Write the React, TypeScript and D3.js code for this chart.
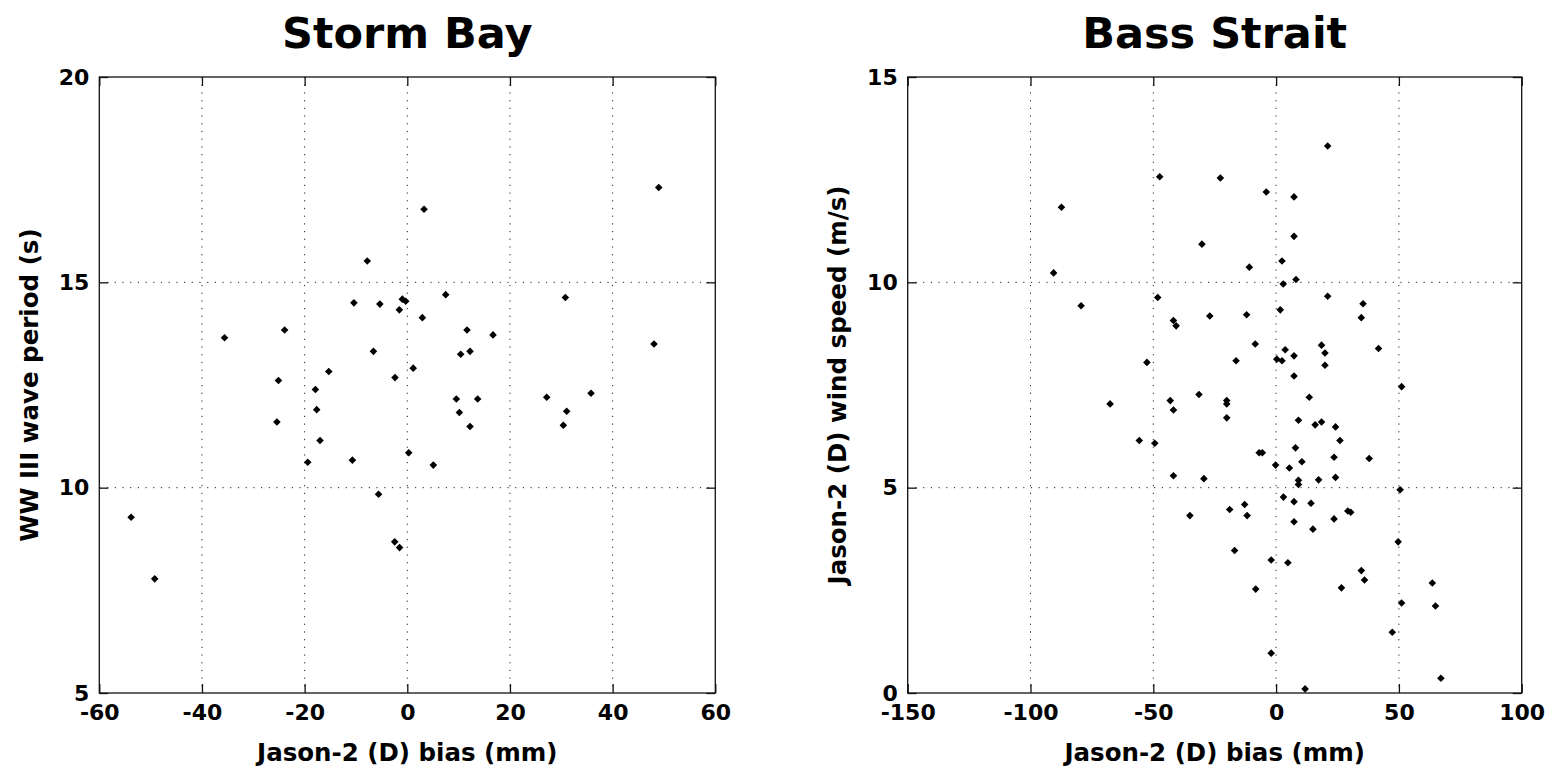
import { useEffect, useRef } from 'react'
import * as d3 from 'd3'

const WIDTH = 1556
const HEIGHT = 772
const FONT = '"DejaVu Sans", sans-serif'

// Storm Bay: Jason-2 (D) bias (mm) vs WW III wave period (s)
const stormBias = [
  -53.8, -49.2, -35.6, -25.1, -25.4, -23.9, -19.4, -17.9, -17.65, -17.0, -15.3,
  -10.7, -10.4, -7.8, -6.6, -5.6, -5.35, -2.45, -1.5, -2.4, -1.55, -0.97, -0.31,
  0.28, 1.15, 2.93, 3.26, 5.07, 7.48, 9.55, 10.14, 10.4, 11.63, 12.22, 12.22,
  13.71, 16.7, 27.16, 30.4, 30.79, 31.05, 35.79, 48.06, 48.98,
]
const stormPeriod = [
  9.28, 7.78, 13.65, 12.61, 11.6, 13.84, 10.62, 12.39, 11.9, 11.15, 12.83,
  10.67, 14.5, 15.52, 13.32, 9.84, 14.47, 8.68, 8.54, 12.68, 14.33, 14.59, 14.54,
  10.85, 12.91, 14.14, 16.78, 10.55, 14.7, 12.16, 11.83, 13.25, 13.84, 13.32, 11.49,
  12.16, 13.72, 12.2, 11.52, 14.63, 11.86, 12.3, 13.5, 17.31,
]

// Bass Strait: Jason-2 (D) bias (mm) vs Jason-2 (D) wind speed (m/s)
const bassBias = [
  21.0, -47.4, -22.7, -4.0, 7.3, -87.4, 7.3, -30.2, 2.4, -10.9, -90.6, 8.1, 2.9,
  21.0, -79.4, -48.2, 35.4, 1.7, -27.0, -12.0, 34.7, -41.8, -40.7, -8.5, 18.5,
  41.7, 3.7, 19.9, 7.3, 0.3, 2.4, -16.3, -52.6, 19.9, 7.3, 51.1, -31.4, 13.5,
  -43.1, -20.1, -20.1, -67.6, -41.8, -20.1, 9.1, 18.5, 15.9, 24.2, 26.0, -55.7,
  -49.4, 7.9, -6.9, -5.6, 23.6, 37.9, 10.5, -0.2, 5.4, -41.8, -29.4, 24.2, 17.3,
  9.1, 9.1, 50.5, 3.0, 7.3, 14.2, -12.8, -18.9, 29.2, 30.4, -35.1, -11.8, 23.6,
  7.3, 15.0, 49.7, -16.9, -2.0, 4.8, 34.7, 36.0, 63.6, -8.3, 26.6, 51.1, 64.9,
  47.3, -2.0, 67.1, 11.8,
]
const bassWind = [
  13.32, 12.57, 12.54, 12.2, 12.08, 11.83, 11.12, 10.93, 10.52, 10.37, 10.23, 10.07, 9.96,
  9.66, 9.43, 9.63, 9.48, 9.33, 9.18, 9.21, 9.14, 9.07, 8.94, 8.5, 8.47,
  8.39, 8.36, 8.28, 8.21, 8.13, 8.09, 8.09, 8.05, 7.98, 7.72, 7.46, 7.27, 7.2,
  7.12, 7.12, 7.04, 7.04, 6.89, 6.7, 6.64, 6.6, 6.53, 6.48, 6.15, 6.15,
  6.08, 5.97, 5.85, 5.85, 5.74, 5.71, 5.63, 5.55, 5.48, 5.29, 5.22, 5.25, 5.19,
  5.18, 5.08, 4.95, 4.77, 4.66, 4.62, 4.59, 4.47, 4.43, 4.4, 4.32, 4.32, 4.24,
  4.17, 3.99, 3.68, 3.47, 3.24, 3.17, 2.98, 2.75, 2.68, 2.53, 2.56, 2.19, 2.12,
  1.48, 0.97, 0.36, 0.1,
]

const stormXTicks = [-60, -40, -20, 0, 20, 40, 60]
const stormYTicks = [5, 10, 15, 20]
const bassXTicks = [-150, -100, -50, 0, 50, 100]
const bassYTicks = [0, 5, 10, 15]

const PANELS = [
  {
    title: 'Storm Bay',
    xLabel: 'Jason-2 (D) bias (mm)',
    yLabel: 'WW III wave period (s)',
    xs: stormBias,
    ys: stormPeriod,
    xTicks: stormXTicks,
    yTicks: stormYTicks,
    left: 99.3,
    right: 715.3,
    yLabelX: 38,
  },
  {
    title: 'Bass Strait',
    xLabel: 'Jason-2 (D) bias (mm)',
    yLabel: 'Jason-2 (D) wind speed (m/s)',
    xs: bassBias,
    ys: bassWind,
    xTicks: bassXTicks,
    yTicks: bassYTicks,
    left: 907.7,
    right: 1521.7,
    yLabelX: 846,
  },
]

const TOP = 77
const BOTTOM = 693
const TICK = 9

export default function App() {
  const svgRef = useRef<SVGSVGElement>(null)

  useEffect(() => {
    if (!svgRef.current) return
    const svg = d3.select(svgRef.current)
    svg.selectAll('*').remove()

    svg.append('rect').attr('width', WIDTH).attr('height', HEIGHT).attr('fill', '#fff')

    PANELS.forEach((p) => {
      const x = d3.scaleLinear()
        .domain(d3.extent(p.xTicks) as [number, number])
        .range([p.left, p.right])
      const y = d3.scaleLinear()
        .domain(d3.extent(p.yTicks) as [number, number])
        .range([BOTTOM, TOP])

      const g = svg.append('g')
      const fmt = (d: d3.NumberValue) => String(d)

      // dotted grid at interior ticks
      g.append('g')
        .selectAll('line')
        .data(p.xTicks.slice(1, -1))
        .join('line')
        .attr('x1', (d) => x(d)).attr('x2', (d) => x(d))
        .attr('y1', TOP).attr('y2', BOTTOM)
        .attr('stroke', '#222').attr('stroke-width', 1)
        .attr('stroke-dasharray', '1.2 6.5')
      g.append('g')
        .selectAll('line')
        .data(p.yTicks.slice(1, -1))
        .join('line')
        .attr('y1', (d) => y(d)).attr('y2', (d) => y(d))
        .attr('x1', p.left).attr('x2', p.right)
        .attr('stroke', '#222').attr('stroke-width', 1)
        .attr('stroke-dasharray', '1.2 6.5')

      // axes with inward ticks on all four sides
      const styleAxis = (sel: any, labels: boolean) => {
        sel.select('.domain').remove()
        sel.selectAll('.tick line').attr('stroke', '#111').attr('stroke-width', 1.3)
        sel.selectAll('text')
          .attr('font-family', FONT)
          .attr('font-weight', 'bold')
          .attr('font-size', '22px')
          .attr('fill', '#000')
        if (!labels) sel.selectAll('text').remove()
      }

      g.append('g')
        .attr('transform', `translate(0,${BOTTOM})`)
        .call(d3.axisBottom(x).tickValues(p.xTicks).tickSizeInner(-TICK).tickSizeOuter(0).tickPadding(11).tickFormat(fmt))
        .call((s) => styleAxis(s, true))
      g.append('g')
        .attr('transform', `translate(0,${TOP})`)
        .call(d3.axisTop(x).tickValues(p.xTicks).tickSizeInner(-TICK).tickSizeOuter(0))
        .call((s) => styleAxis(s, false))
      g.append('g')
        .attr('transform', `translate(${p.left},0)`)
        .call(d3.axisLeft(y).tickValues(p.yTicks).tickSizeInner(-TICK).tickSizeOuter(0).tickPadding(10).tickFormat(fmt))
        .call((s) => styleAxis(s, true))
      g.append('g')
        .attr('transform', `translate(${p.right},0)`)
        .call(d3.axisRight(y).tickValues(p.yTicks).tickSizeInner(-TICK).tickSizeOuter(0))
        .call((s) => styleAxis(s, false))

      // frame
      g.append('rect')
        .attr('x', p.left).attr('y', TOP)
        .attr('width', p.right - p.left).attr('height', BOTTOM - TOP)
        .attr('fill', 'none').attr('stroke', '#111').attr('stroke-width', 1.3)

      // points
      const pts = p.xs.map((v, i) => [v, p.ys[i]])
      g.append('g')
        .selectAll('path')
        .data(pts)
        .join('path')
        .attr('transform', (d) => `translate(${x(d[0])},${y(d[1])})`)
        .attr('d', 'M0,-3.8L3.8,0L0,3.8L-3.8,0Z')
        .attr('fill', '#000')

      // title and labels
      const cx = (p.left + p.right) / 2
      g.append('text')
        .attr('x', cx).attr('y', 48)
        .attr('text-anchor', 'middle')
        .attr('font-family', FONT).attr('font-weight', 'bold').attr('font-size', '43px')
        .text(p.title)
      g.append('text')
        .attr('x', cx).attr('y', 761)
        .attr('text-anchor', 'middle')
        .attr('font-family', FONT).attr('font-weight', 'bold').attr('font-size', '24.5px')
        .text(p.xLabel)
      g.append('text')
        .attr('transform', `translate(${p.yLabelX},${(TOP + BOTTOM) / 2}) rotate(-90)`)
        .attr('text-anchor', 'middle')
        .attr('font-family', FONT).attr('font-weight', 'bold').attr('font-size', '24.5px')
        .text(p.yLabel)
    })
  }, [])

  return (
    <svg
      ref={svgRef}
      width={WIDTH}
      height={HEIGHT}
      style={{ position: 'absolute', left: 0, top: 0, display: 'block' }}
    />
  )
}
